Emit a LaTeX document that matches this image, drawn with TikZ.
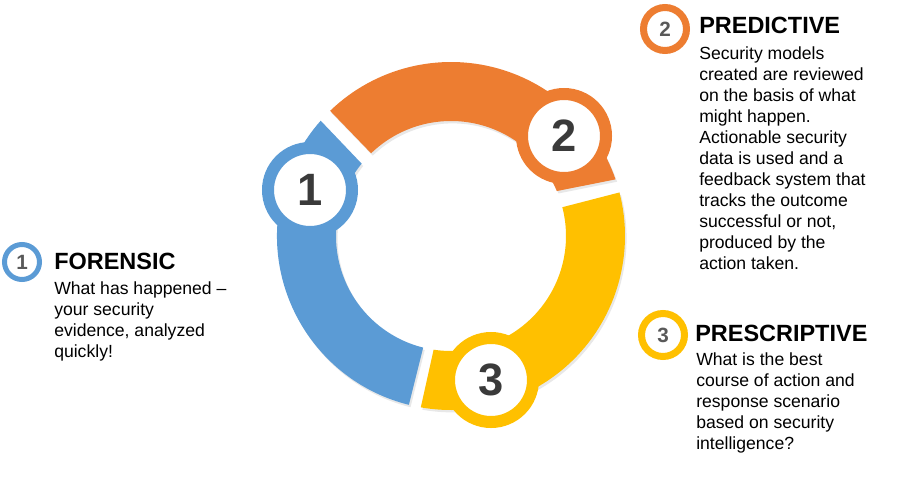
\documentclass[tikz,border=0pt]{standalone}
\usepackage{fontspec}
\setmainfont{Liberation Sans}
\usetikzlibrary{shadows}
\definecolor{colorblue}{HTML}{5B9BD5}
\definecolor{colororange}{HTML}{ED7D31}
\definecolor{coloryellow}{HTML}{FFC000}
\definecolor{colordigit}{HTML}{3A3A3A}
\definecolor{colormark}{HTML}{595959}
\def\rout{130.5pt}
\def\rin{86.25pt}
\tikzset{
    ring part/.style={fill=#1, drop shadow={opacity=0.18, shadow xshift=1.2pt, shadow yshift=-1.8pt}},
    big badge/.style={circle, fill=white, draw=#1, line width=9pt, minimum size=63pt, inner sep=0pt,
        text=colordigit, font=\fontsize{34}{34}\selectfont\bfseries},
    small badge/.style={circle, fill=white, draw=#1, line width=5.25pt, minimum size=32.25pt, inner sep=0pt,
        text=colormark, font=\fontsize{15.5}{15.5}\selectfont\bfseries},
    title text/.style={anchor=base west, inner sep=0pt, font=\fontsize{17.6}{17.6}\selectfont\bfseries},
    body text/.style={anchor=north west, inner sep=0pt, align=left, font=\fontsize{13.2}{15.8}\selectfont}
}
\begin{document}
\begin{tikzpicture}[x=0.75pt, y=0.75pt]
    \useasboundingbox (0,0) rectangle (900,-479);

    \begin{scope}[shift={(451,-236)}]
        \foreach \col/\a/\b/\c/\d in {colorblue/256/138.5/141/256,
                colororange/134/19/23/134, coloryellow/14.5/-100/-98.7/14.5} {
            \path [ring part=\col] (\a:\rout) arc [start angle=\a, end angle=\b, radius=\rout] --
            (\c:\rin) arc [start angle=\c, end angle=\d, radius=\rin] -- cycle;
        }
    \end{scope}

    \foreach \i/\col/\x/\y in {1/colorblue/310/190, 2/colororange/564/136, 3/coloryellow/491/380} {
        \node [big badge=\col] (badge\i) at (\x,-\y) {\i};
    }

    \node [small badge=colorblue, minimum size=26.25pt, line width=3.75pt] (mark1) at (22,-262) {1};
    \node [small badge=colororange] (mark2) at (665,-29) {2};
    \node [small badge=coloryellow] (mark3) at (663,-335) {3};

    \node [title text] (forensic) at (54,-269) {FORENSIC};
    \node [title text] (predictive) at (699,-33) {PREDICTIVE};
    \node [title text] (prescriptive) at (695,-341) {PRESCRIPTIVE};

    \node [body text] (forensicbody) at (54,-281) {What has happened –\\your security\\evidence, analyzed\\quickly!};
    \node [body text] (predictivebody) at (699,-46) {Security models\\created are reviewed\\on the basis of what\\might happen.\\Actionable security\\data is used and a\\feedback system that\\tracks the outcome\\successful or not,\\produced by the\\action taken.};
    \node [body text] (prescriptivebody) at (696,-352) {What is the best\\course of action and\\response scenario\\based on security\\intelligence?};
\end{tikzpicture}
\end{document}
